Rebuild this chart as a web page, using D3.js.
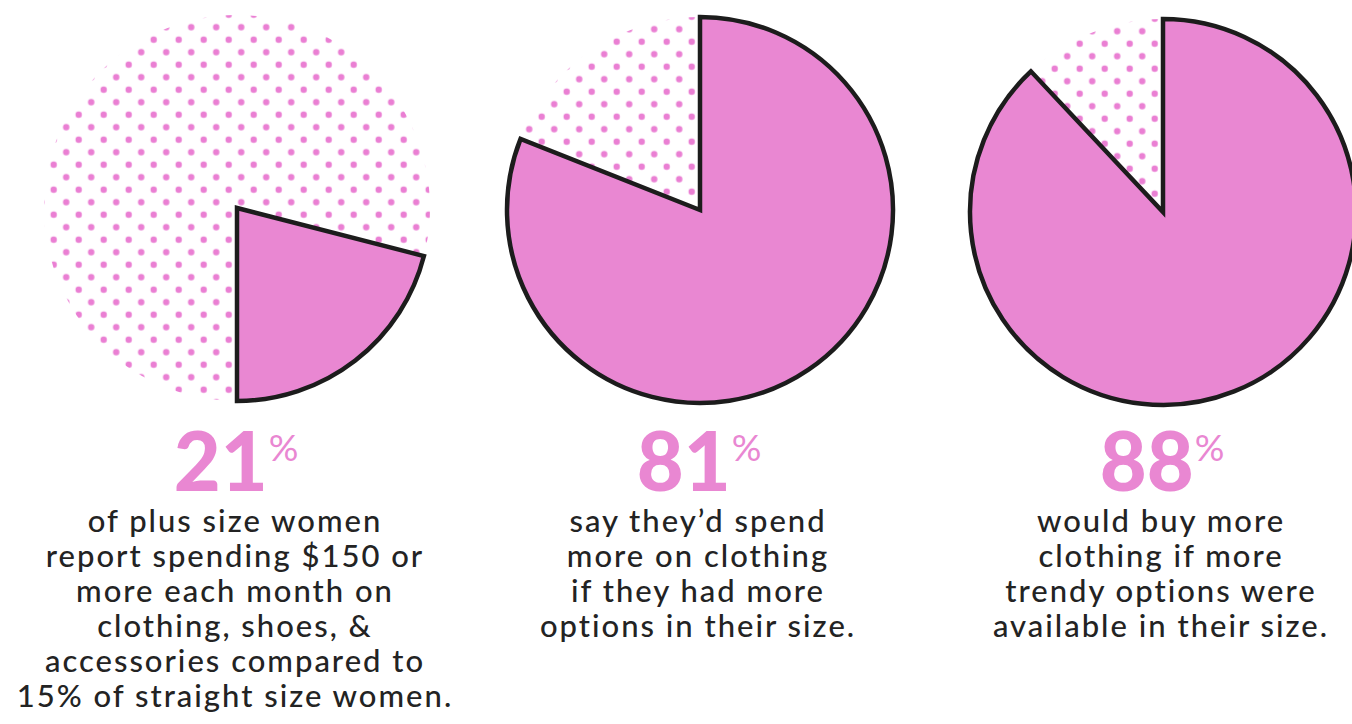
<!DOCTYPE html>
<html>
<head>
<meta charset="utf-8">
<script src="https://cdn.jsdelivr.net/npm/d3@7"></script>
<style>
  html, body { margin: 0; padding: 0; background: #fff; }
  svg { display: block; }
</style>
</head>
<body>
<div id="vis"></div>
<script>
// survey figures, one pie per stat
const stats = ["21", "81", "88"];
const values = [21, 81, 88];
const descriptions = [
  ["of plus size women", "report spending $150 or", "more each month on", "clothing, shoes, &", "accessories compared to", "15% of straight size women."],
  ["say they\u2019d spend", "more on clothing", "if they had more", "options in their size."],
  ["would buy more", "clothing if more", "trendy options were", "available in their size."]
];
// where the filled slice is anchored: first pie ends at 6 o'clock, others start at 12
const anchors = ["bottom", "top", "top"];

const width = 1352, height = 724;
const pink = "#e987d2", dotPink = "#ea7fd3", ink = "#1c1c1c", textInk = "#232323";

const svg = d3.select("#vis")
  .append("svg")
  .attr("width", width)
  .attr("height", height);

const defs = svg.append("defs");
const pat = defs.append("pattern")
  .attr("id", "dots")
  .attr("patternUnits", "userSpaceOnUse")
  .attr("x", 16.7).attr("y", 6.7)
  .attr("width", 25).attr("height", 25);
[[0, 0], [25, 0], [0, 25], [25, 25], [12.5, 12.5]].forEach(p => {
  pat.append("circle").attr("cx", p[0]).attr("cy", p[1]).attr("r", 3.2).attr("fill", dotPink);
});

const x = d3.scalePoint().domain(d3.range(values.length)).range([237, 1163]);
const cy = d3.scalePoint().domain(d3.range(values.length)).range([208, 212]);
const angle = d3.scaleLinear().domain([0, 100]).range([0, 2 * Math.PI]);
const r = 193;

const arc = d3.arc().innerRadius(0).outerRadius(r);

const g = svg.selectAll("g.pie")
  .data(values)
  .enter()
  .append("g")
  .attr("class", "pie")
  .attr("transform", (d, i) => "translate(" + x(i) + "," + cy(i) + ")");

// dotted remainder: whole circle of dots
g.append("circle")
  .attr("r", r)
  .attr("fill", "url(#dots)");

g.append("path")
  .attr("d", (d, i) => {
    const a = angle(d);
    return anchors[i] === "bottom"
      ? arc({startAngle: Math.PI - a, endAngle: Math.PI})
      : arc({startAngle: 0, endAngle: a});
  })
  .attr("fill", pink)
  .attr("stroke", ink)
  .attr("stroke-width", 4.5)
  .attr("stroke-linejoin", "miter");

// big percentage
const big = svg.selectAll("text.big")
  .data(stats)
  .enter()
  .append("text")
  .attr("class", "big")
  .attr("x", (d, i) => x(i) - 1)
  .attr("y", 491)
  .attr("text-anchor", "middle")
  .attr("fill", pink)
  .style("font-family", "Lato, sans-serif");
big.append("tspan")
  .style("font-size", "81px")
  .style("font-weight", 900)
  .text(d => d);
big.append("tspan")
  .attr("dx", 1)
  .attr("dy", -30)
  .style("font-size", "37px")
  .style("font-weight", 400)
  .text("%");

// description lines
svg.selectAll("text.desc")
  .data(descriptions)
  .enter()
  .append("text")
  .attr("class", "desc")
  .attr("text-anchor", "middle")
  .attr("fill", textInk)
  .style("font-family", "Lato, sans-serif")
  .style("font-size", "31px")
  .style("font-weight", 500)
  .style("letter-spacing", "2px")
  .each(function(lines, i) {
    d3.select(this).selectAll("tspan")
      .data(lines)
      .enter()
      .append("tspan")
      .attr("x", x(i) - 2)
      .attr("y", (l, j) => 532 + j * 35)
      .text(l => l);
  });
</script>
</body>
</html>
